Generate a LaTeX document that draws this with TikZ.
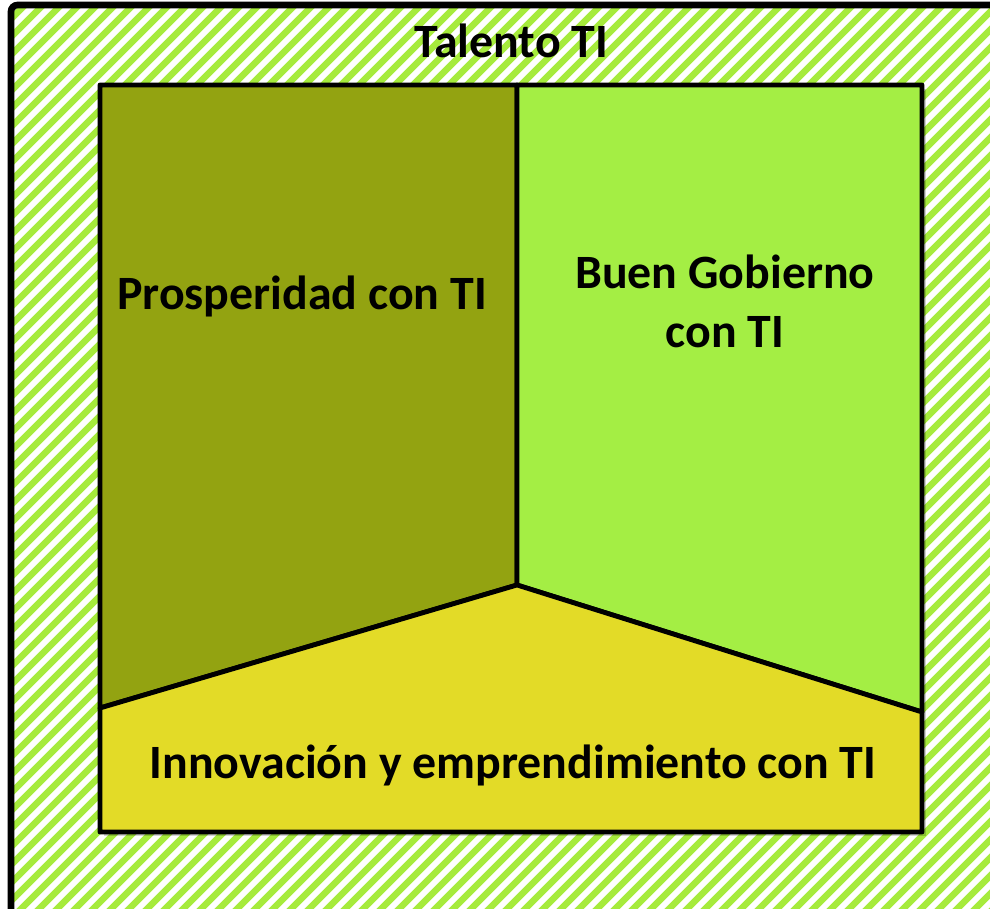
\documentclass[tikz,border=0pt]{standalone}
\usepackage{fontspec}
\setmainfont{Carlito}
\definecolor{hatchgreen}{HTML}{A6EB3C}
\definecolor{olivefill}{HTML}{93A311}
\definecolor{limefill}{HTML}{A4EE44}
\definecolor{yellowfill}{HTML}{E3DB27}
\tikzset{
  panel/.style={draw=black, line width=3.6pt, line join=round},
  shadowpanel/.style={fill=black, fill opacity=0.18},
  label/.style={font=\fontsize{35.9}{44.3}\selectfont\bfseries, text=black, inner sep=0pt, anchor=base, align=center},
}
\begin{document}
\begin{tikzpicture}[x=0.75pt, y=-0.75pt]
\useasboundingbox (0,0) rectangle (990,909);
\begin{scope}
\clip (0,0) rectangle (990,909);
\fill[white] (0,0) rectangle (990,909);
% hatched background
\begin{scope}
\clip (11,5) rectangle (1020,940);
\foreach \a in {-918,-900,...,1008}
  \draw[hatchgreen, line width=5pt] (\a,930) -- (\a+935,-5);
\end{scope}
% outer frame
\draw[black, line width=5pt, rounded corners=5] (11,1000) -- (11,5) -- (1020,5);

% vertices
\coordinate (tl) at (100,85);
\coordinate (tm) at (517,85);
\coordinate (tr) at (922,85);
\coordinate (cm) at (517,585);
\coordinate (ml) at (100,708);
\coordinate (mr) at (922,712);
\coordinate (bl) at (100,832);
\coordinate (br) at (922,832);

% shadows
\fill[shadowpanel] ([shift={(4,4)}]tl) -- ([shift={(4,4)}]tr) -- ([shift={(4,4)}]br) -- ([shift={(4,4)}]bl) -- cycle;

% panels
\filldraw[panel, fill=olivefill] (tl) -- (tm) -- (cm) -- (ml) -- cycle;
\filldraw[panel, fill=limefill] (tm) -- (tr) -- (mr) -- (cm) -- cycle;
\filldraw[panel, fill=yellowfill] (ml) -- (cm) -- (mr) -- (br) -- (bl) -- cycle;

% labels
\node[label] (talento) at (511,58) {Talento TI};
\node[label] (prosp) at (302,310) {Prosperidad con TI};
\node[label] (buen) at (725,348) {Buen Gobierno\\con TI};
\node[label] (innov) at (513,778) {Innovación y emprendimiento con TI};
\end{scope}
\end{tikzpicture}
\end{document}
